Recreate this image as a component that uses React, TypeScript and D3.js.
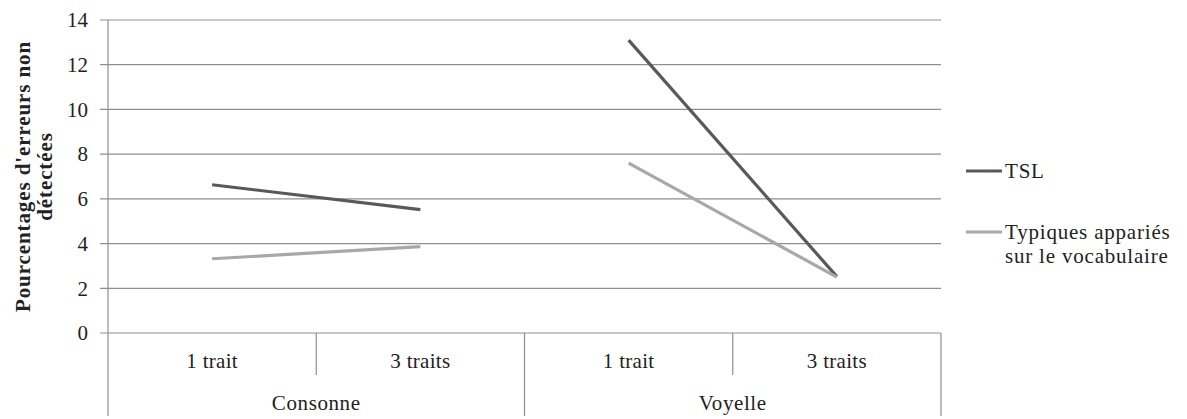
import React, { useEffect, useRef } from 'react';
import * as d3 from 'd3';

// data
const groups = ['Consonne', 'Voyelle'];
const traits = ['1 trait', '3 traits'];
const tslValues = [6.63, 5.52, 13.1, 2.52];
const typiquesValues = [3.32, 3.86, 7.6, 2.5];
const yTicks = [0, 2, 4, 6, 8, 10, 12, 14];
const seriesNames = ['TSL', 'Typiques appariés sur le vocabulaire'];

export default function App() {
  const svgRef = useRef<SVGSVGElement>(null);

  useEffect(() => {
    const width = 1187;
    const height = 419;
    const margin = { top: 20, left: 108, right: 246, bottom: 86 };
    const font = '"Liberation Serif", "Times New Roman", serif';
    const gridColor = '#8f8f8f';

    const svg = d3.select(svgRef.current).attr('width', width).attr('height', height);
    svg.selectAll('*').remove();

    const keys: string[] = [];
    groups.forEach((g) => traits.forEach((t) => keys.push(`${g}|${t}`)));

    const x = d3
      .scaleBand()
      .domain(keys)
      .range([margin.left, width - margin.right]);
    const y = d3
      .scaleLinear()
      .domain([0, 14])
      .range([height - margin.bottom, margin.top]);

    const x0 = margin.left;
    const x1 = width - margin.right;
    const y0 = y(0);

    // gridlines + y ticks
    svg
      .append('g')
      .selectAll('line')
      .data(yTicks)
      .join('line')
      .attr('x1', x0 - 8)
      .attr('x2', x1)
      .attr('y1', (d) => y(d))
      .attr('y2', (d) => y(d))
      .attr('stroke', gridColor)
      .attr('stroke-width', 1.2);

    svg
      .append('g')
      .selectAll('text')
      .data(yTicks)
      .join('text')
      .attr('x', x0 - 20)
      .attr('y', (d) => y(d))
      .attr('dy', '0.35em')
      .attr('text-anchor', 'end')
      .attr('font-family', font)
      .attr('font-size', 21)
      .attr('fill', '#222')
      .text((d) => d);

    // y axis line
    svg
      .append('line')
      .attr('x1', x0)
      .attr('x2', x0)
      .attr('y1', margin.top)
      .attr('y2', height - 3)
      .attr('stroke', gridColor)
      .attr('stroke-width', 1.2);

    // category dividers
    keys.forEach((k, i) => {
      const xe = (x(k) as number) + x.bandwidth();
      const isGroupEnd = i % traits.length === traits.length - 1;
      svg
        .append('line')
        .attr('x1', xe)
        .attr('x2', xe)
        .attr('y1', y0)
        .attr('y2', isGroupEnd ? height - 3 : y0 + 42)
        .attr('stroke', gridColor)
        .attr('stroke-width', 1.2);
    });

    // category labels
    svg
      .append('g')
      .selectAll('text')
      .data(keys)
      .join('text')
      .attr('x', (d) => (x(d) as number) + x.bandwidth() / 2)
      .attr('y', y0 + 35)
      .attr('text-anchor', 'middle')
      .attr('font-family', font)
      .attr('font-size', 21)
      .attr('letter-spacing', 0.3)
      .attr('fill', '#222')
      .text((d) => d.split('|')[1]);

    // group labels
    svg
      .append('g')
      .selectAll('text')
      .data(groups)
      .join('text')
      .attr('x', (g) => {
        const first = x(`${g}|${traits[0]}`) as number;
        return first + x.bandwidth() * traits.length / 2;
      })
      .attr('y', y0 + 77)
      .attr('text-anchor', 'middle')
      .attr('font-family', font)
      .attr('font-size', 21)
      .attr('letter-spacing', 0.6)
      .attr('fill', '#222')
      .text((g) => g);

    // lines, one segment per group
    const line = d3
      .line<{ k: string; v: number }>()
      .x((d) => (x(d.k) as number) + x.bandwidth() / 2)
      .y((d) => y(d.v));

    const series = [
      { values: tslValues, color: '#595959' },
      { values: typiquesValues, color: '#a8a8a8' },
    ];
    series.forEach((s) => {
      groups.forEach((g, gi) => {
        const pts = traits.map((t, ti) => ({
          k: `${g}|${t}`,
          v: s.values[gi * traits.length + ti],
        }));
        svg
          .append('path')
          .attr('d', line(pts))
          .attr('fill', 'none')
          .attr('stroke', s.color)
          .attr('stroke-width', 3.2);
      });
    });

    // y axis title
    const title = svg
      .append('text')
      .attr('transform', `translate(30, ${(margin.top + y0) / 2}) rotate(-90)`)
      .attr('text-anchor', 'middle')
      .attr('font-family', font)
      .attr('font-size', 21)
      .attr('letter-spacing', 0.9)
      .attr('font-weight', 'bold')
      .attr('fill', '#222');
    title.append('tspan').attr('x', 0).attr('dy', 0).text("Pourcentages d'erreurs non");
    title.append('tspan').attr('x', 0).attr('dy', 22).text('détectées');

    // legend
    const legend = svg.append('g');
    const legendY = [171, 232];
    seriesNames.forEach((name, i) => {
      legend
        .append('line')
        .attr('x1', 966)
        .attr('x2', 1002)
        .attr('y1', legendY[i])
        .attr('y2', legendY[i])
        .attr('stroke', series[i].color)
        .attr('stroke-width', 3.2);
      const t = legend
        .append('text')
        .attr('x', 1005)
        .attr('y', legendY[i] + 7)
        .attr('font-family', font)
        .attr('font-size', 21)
        .attr('letter-spacing', 0.8)
        .attr('fill', '#222');
      if (i === 1) {
        t.append('tspan').attr('x', 1005).text('Typiques appariés');
        t.append('tspan').attr('x', 1005).attr('dy', 24).text('sur le vocabulaire');
      } else {
        t.text(name);
      }
    });
  }, []);

  return (
    <svg
      ref={svgRef}
      style={{ position: 'absolute', left: 0, top: 0, display: 'block', background: '#fff' }}
    />
  );
}
